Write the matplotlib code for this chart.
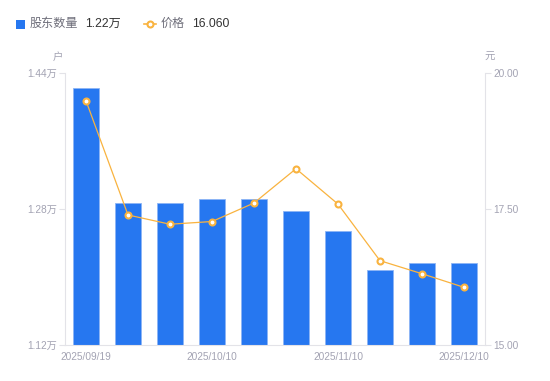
import matplotlib
matplotlib.use("Agg")
import matplotlib.pyplot as plt
from matplotlib.lines import Line2D
from matplotlib.patches import Rectangle

plt.rcParams['font.family'] = ['Liberation Sans', 'Noto Sans CJK SC', 'DejaVu Sans']

dates = ["2025/09/19", "2025/09/26", "2025/09/30", "2025/10/10", "2025/10/20",
         "2025/10/31", "2025/11/10", "2025/11/20", "2025/11/30", "2025/12/10"]
holders = [1.4224, 1.2865, 1.2865, 1.2912, 1.2912, 1.2776, 1.2545, 1.2082, 1.2161, 1.2161]
price = [19.49, 17.39, 17.22, 17.27, 17.61, 18.24, 17.59, 16.55, 16.31, 16.06]
left_ticks = [1.12, 1.28, 1.44]
left_labels = ["1.12万", "1.28万", "1.44万"]
right_ticks = [15.0, 17.5, 20.0]
right_labels = ["15.00", "17.50", "20.00"]
shown_idx = [0, 3, 6, 9]

bar_color = "#2677F0"
line_color = "#F9B33F"
axis_color = "#E3E3E8"
tick_text = "#A3A3B3"

fig = plt.figure(figsize=(5.5, 3.81), dpi=100)
ax = fig.add_axes([65/550, 1-345/381, 420/550, 272/381])
ax2 = ax.twinx()

x = list(range(len(dates)))
ax.bar(x, holders, width=0.6, color=bar_color, edgecolor="#8DB5F5", linewidth=0.6, zorder=2)
ax.set_ylim(1.12, 1.44)
ax.set_xlim(-0.5, len(dates) - 0.5)
ax.set_yticks(left_ticks)
ax.set_yticklabels(left_labels)
ax.set_xticks([x[i] for i in shown_idx])
ax.set_xticklabels([dates[i] for i in shown_idx])

ax2.plot(x, price, color=line_color, linewidth=0.9, marker="o", markersize=4.3,
         markerfacecolor="white", markeredgecolor=line_color, markeredgewidth=1.5, zorder=3)
ax2.set_ylim(15, 20)
ax2.set_yticks(right_ticks)
ax2.set_yticklabels(right_labels)

for a in (ax, ax2):
    for s in a.spines.values():
        s.set_visible(False)
ax.spines['left'].set_visible(True)
ax.spines['left'].set_color(axis_color)
ax.spines['bottom'].set_visible(True)
ax.spines['bottom'].set_color(axis_color)
ax2.spines['right'].set_visible(True)
ax2.spines['right'].set_color(axis_color)

ax.tick_params(axis='y', colors=axis_color, labelcolor=tick_text, labelsize=7.3, length=4, pad=2)
ax.tick_params(axis='x', length=0, labelcolor=tick_text, labelsize=7.3, pad=5)
ax2.tick_params(axis='y', colors=axis_color, labelcolor=tick_text, labelsize=7.3, length=4, pad=2)

fig.text(58/550, 1-57/381, "户", color=tick_text, fontsize=7.5, ha='center', va='center')
fig.text(490/550, 1-57/381, "元", color=tick_text, fontsize=7.5, ha='center', va='center')

# legend
fig.patches.append(Rectangle((16/550, 1-29/381), 9/550, 9/381, transform=fig.transFigure,
                             facecolor=bar_color, edgecolor='none'))
fig.text(30/550, 1-24/381, "股东数量", color="#6E6E7A", fontsize=8.7, ha='left', va='center')
fig.text(85/550, 1-24/381, "1.22万", color="#333333", fontsize=8.7, ha='left', va='center')
fig.lines.append(Line2D([144/550, 156/550], [1-24/381, 1-24/381], transform=fig.transFigure,
                        color=line_color, linewidth=1.2))
fig.lines.append(Line2D([150/550], [1-24/381], transform=fig.transFigure,
                        color=line_color, marker='o', markersize=4.3, linestyle='none',
                        markerfacecolor='white', markeredgecolor=line_color, markeredgewidth=1.5))
fig.text(161/550, 1-24/381, "价格", color="#6E6E7A", fontsize=8.7, ha='left', va='center')
fig.text(192/550, 1-24/381, "16.060", color="#333333", fontsize=8.7, ha='left', va='center')

fig.savefig("out.png", dpi=100)
